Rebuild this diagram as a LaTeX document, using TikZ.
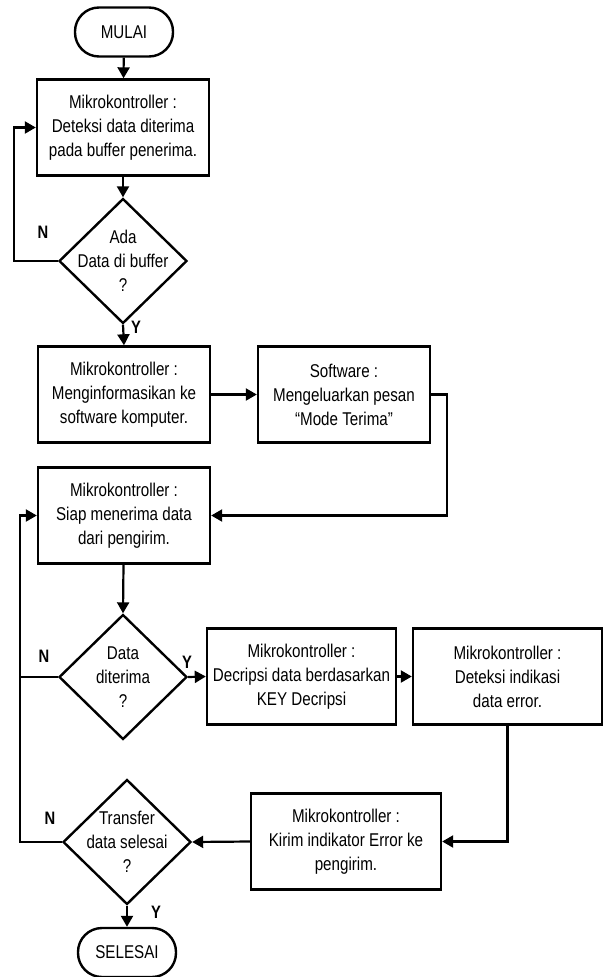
\documentclass[tikz,border=0pt]{standalone}
\usepackage{fontspec}
\setmainfont{Liberation Sans}[FakeStretch=0.82]
\usepackage{tikz}
\usetikzlibrary{shapes.geometric,arrows.meta}

\tikzset{
	box/.style={draw, line width=2.4pt, minimum width=172pt, minimum height=96pt, align=center, inner sep=0pt},
	term/.style={draw, line width=2.4pt, rounded corners=24pt, minimum width=98pt, minimum height=49pt, inner sep=0pt},
	dec/.style={draw, diamond, line width=2.4pt, minimum width=128pt, minimum height=125pt, inner sep=0pt},
	arr/.style={line width=2.2pt, -{Triangle[length=11pt,width=12pt]}},
	lin/.style={line width=2.2pt},
	yn/.style={font=\fontsize{18}{24}\selectfont\bfseries}
}

\begin{document}
\begin{tikzpicture}[x=1pt, y=-1pt, font=\fontsize{18.5}{24}\selectfont]
\useasboundingbox (0,0) rectangle (603,977);
\node[term] (t1) at (124,32) {MULAI};
\node[box] (b1) at (123,127.5) {Mikrokontroller :\\Deteksi data diterima\\pada buffer penerima.};
\node[dec] (d1) at (123,261) {};
\node[align=center] at (d1) {Ada\\Data di buffer\\?};
\node[box] (b2) at (124,394.5) {Mikrokontroller :\\Menginformasikan ke\\software komputer.};
\node[box] (b3) at (344,394.5) {Software :\\Mengeluarkan pesan\\“Mode Terima”};
\node[box] (b4) at (124,515.5) {Mikrokontroller :\\Siap menerima data\\dari pengirim.};
\node[dec] (d2) at (123,677) {};
\node[align=center] at (d2) {Data\\diterima\\?};
\node[box, minimum width=189pt] (b5) at (301.5,676.5) {Mikrokontroller :\\Decripsi data berdasarkan\\KEY Decripsi};
\node[box, minimum width=189pt] (b6) at (507.5,676.5) {Mikrokontroller :\\Deteksi indikasi\\data error.};
\node[box, minimum width=190pt] (b7) at (346,841.5) {Mikrokontroller :\\Kirim indikator Error ke\\pengirim.};
\node[dec] (d3) at (127,842) {};
\node[align=center] at (d3) {Transfer\\data selesai\\?};
\node[term] (t2) at (127,952.5) {SELESAI};

\node[yn] (n1) at (43,232) {N};
\node[yn] (y1) at (136,327) {Y};
\node[yn] (n2) at (44,656) {N};
\node[yn] (y2) at (187,662) {Y};
\node[yn] (n3) at (50,818) {N};
\node[yn] (y3) at (156,912) {Y};

\coordinate (c1) at (14,261);
\coordinate (c2) at (447,394.5);
\coordinate (c3) at (20,677);

\draw[arr] (t1) -- (b1);
\draw[arr] (b1) -- (d1);
\draw[arr] (d1.west) -- (c1) |- (b1.west);
\draw[arr] (d1.south) -- (b2.north);
\draw[arr] (b2) -- (b3);
\draw[arr] (b3.east) -- (c2) |- (b4.east);
\draw[arr] (b4) -- (d2.north);
\draw[arr] (d2.east) -- (b5.west);
\draw[arr] (b5) -- (b6);
\draw[arr] (b6.south) |- (b7.east);
\draw[arr] (b7.west) -- (d3.east);
\draw[arr] (d3.south) -- (t2.north);
\draw[arr] (d2.west) -- (c3) |- (b4.west);
\draw[lin] (d3.west) -| (c3);
\end{tikzpicture}
\end{document}
